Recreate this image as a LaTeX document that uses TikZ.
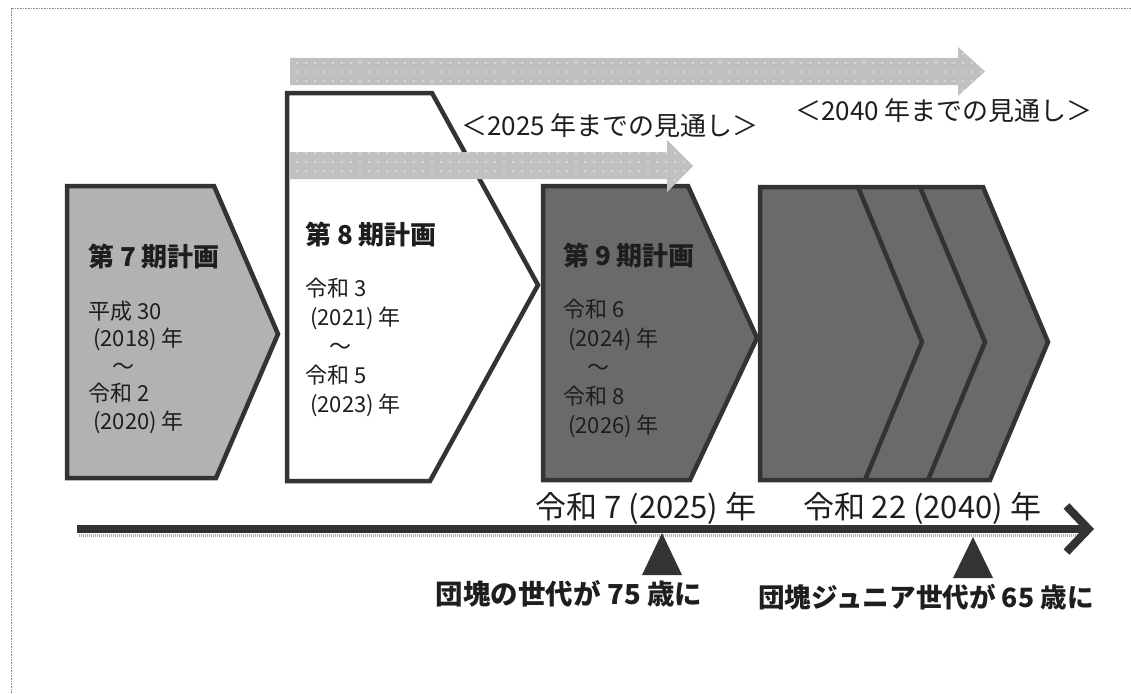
\documentclass[tikz,border=0pt]{standalone}
\usepackage{fontspec}
\setmainfont{Noto Sans CJK JP}
\usetikzlibrary{arrows.meta,patterns.meta}

\definecolor{pline}{HTML}{333333}
\definecolor{pclaro}{HTML}{B2B2B2}
\definecolor{pescuro}{HTML}{6A6A6A}
\definecolor{pfaixa}{HTML}{C0C0C0}
\definecolor{ptexto}{HTML}{1E1E1E}
\tikzset{
  plano/.style={draw=pline,line width=4.5pt,line join=miter},
  faixa/.style={fill=pfaixa,postaction={pattern={Dots[distance=9pt,radius=0.9pt]},pattern color=white!75!pfaixa}},
  eixo/.style={draw=pline,line width=8pt,-{Straight Barb[length=22pt,width=46pt]}},
  sombra/.style={draw=pline!40,line width=3pt,dash pattern=on 1pt off 1pt},
  marco/.style={fill=pline},
  moldura/.style={draw=pline!55,line width=1pt,dash pattern=on 0.8pt off 0.8pt},
  titulo/.style={font=\fontsize{26}{30}\selectfont\bfseries,text=ptexto,anchor=west,inner sep=0pt},
  periodo/.style={font=\fontsize{22}{28}\selectfont,text=ptexto,anchor=west,align=left,inner sep=0pt},
  ano/.style={font=\fontsize{31}{34}\selectfont,text=ptexto,inner sep=0pt},
  evento/.style={font=\fontsize{26.6}{30}\selectfont\bfseries,text=ptexto,inner sep=0pt},
  visao/.style={font=\fontsize{26}{30}\selectfont,text=ptexto,inner sep=0pt},
}

\begin{document}
\begin{tikzpicture}[x=1pt,y=-1pt]
  \useasboundingbox (0,0) rectangle (1131,693);
  \clip (0,0) rectangle (1131,693);
  \draw[moldura] (11,9) rectangle (1150,710);
  % planos 7, 8, 9
  \draw[plano,fill=pclaro] (67,186) -- (214,186) -- (278,334) -- (216,478) -- (67,478) -- cycle;
  \draw[plano,fill=white] (287,93) -- (432,93) -- (538,285) -- (430,481) -- (287,481) -- cycle;
  \draw[plano,fill=pescuro] (543,186) -- (688,186) -- (757,338) -- (690,480) -- (543,480) -- cycle;
  % planos seguintes
  \draw[plano,fill=pescuro] (760,187) -- (983,187) -- (1048,342) -- (990,480) -- (760,480) -- cycle;
  \draw[plano] (858,187) -- (922,342) -- (865,480);
  \draw[plano] (920,187) -- (985,342) -- (928,480);
  % faixas de previsao
  \fill[faixa] (290,58) -- (958,58) -- (958,47) -- (985,71.5) -- (958,96) -- (958,85) -- (290,85) -- cycle;
  \fill[faixa] (290,152) -- (667,152) -- (667,140) -- (693,166) -- (667,192) -- (667,179) -- (290,179) -- cycle;
  \node[visao] (v2025) at (610,126) {＜2025 年までの見通し＞};
  \node[visao] (v2040) at (944,111) {＜2040 年までの見通し＞};
  % textos dos planos
  \node[titulo] (t7) at (88,257) {第 7 期計画};
  \node[periodo,font=\fontsize{22}{27.5}\selectfont] (p7) at (88,367) {平成 30\\\hspace*{5pt}(2018) 年\\\hspace*{24pt}～\\令和 2\\\hspace*{5pt}(2020) 年};
  \node[titulo] (t8) at (305,235) {第 8 期計画};
  \node[periodo,font=\fontsize{22}{29}\selectfont] (p8) at (305,347) {令和 3\\\hspace*{5pt}(2021) 年\\\hspace*{24pt}～\\令和 5\\\hspace*{5pt}(2023) 年};
  \node[titulo] (t9) at (563,256) {第 9 期計画};
  \node[periodo,font=\fontsize{22}{29}\selectfont] (p9) at (563,368) {令和 6\\\hspace*{5pt}(2024) 年\\\hspace*{24pt}～\\令和 8\\\hspace*{5pt}(2026) 年};
  % eixo do tempo
  \coordinate (e0) at (77,529);
  \coordinate (e1) at (1094,529);
  \draw[sombra] (79,535) -- (1080,535);
  \draw[eixo] (e0) -- (e1);
  \node[ano] (a2025) at (646,508) {令和 7 (2025) 年};
  \node[ano] (a2040) at (922,508) {令和 22 (2040) 年};
  % marcos
  \fill[marco] (662,533) -- (682,575) -- (642,575) -- cycle;
  \fill[marco] (973,537) -- (993,578) -- (953,578) -- cycle;
  \node[evento,font=\fontsize{27.5}{30}\selectfont\bfseries] (g75) at (569,594) {団塊の世代が 75 歳に};
  \node[evento] (g65) at (926,597) {団塊ジュニア世代が 65 歳に};
\end{tikzpicture}
\end{document}
